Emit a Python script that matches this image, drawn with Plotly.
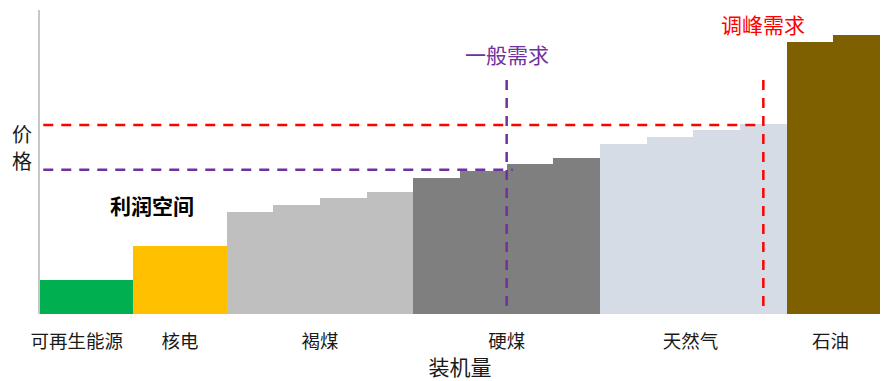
import plotly.graph_objects as go

# Merit-order curve: generation blocks sorted by price
groups = ["可再生能源", "核电", "褐煤", "硬煤", "天然气", "石油"]
group_colors = ["#00b050", "#ffc000", "#bfbfbf", "#7f7f7f", "#d6dce5", "#7f6000"]

# one entry per generation block
block_group = [0, 1, 2, 2, 2, 2, 3, 3, 3, 3, 4, 4, 4, 4, 5, 5]
block_capacity = [2, 2, 1, 1, 1, 1, 1, 1, 1, 1, 1, 1, 1, 1, 1, 1]
block_price = [5, 10, 15, 16, 17, 18, 20, 21, 22, 23, 25, 26, 27, 28, 40, 41]

# demand levels: (capacity, clearing price)
normal_demand = (10.0, 21.2)
peak_demand = (15.5, 27.8)
demand_top = 34.4

# cumulative block positions along the capacity axis
starts, centers = [], []
pos = 0.0
for w in block_capacity:
    starts.append(pos)
    centers.append(pos + w / 2)
    pos += w
total_capacity = pos

group_centers = []
for g in range(len(groups)):
    idx = [i for i in range(len(block_group)) if block_group[i] == g]
    lo = min(starts[i] for i in idx)
    hi = max(starts[i] + block_capacity[i] for i in idx)
    group_centers.append((lo + hi) / 2)

# small nudges so the category labels sit where they read best
label_nudge = [-0.21, 0, 0, 0, -0.06, -0.06]
label_pos = [c + d for c, d in zip(group_centers, label_nudge)]

fig = go.Figure()
fig.add_trace(go.Bar(
    x=centers,
    y=block_price,
    width=block_capacity,
    marker=dict(color=[group_colors[g] for g in block_group], line=dict(width=0)),
    hoverinfo="skip",
    showlegend=False,
))

dash = "10px,8px"
red = "#ff0000"
purple = "#7030a0"
# horizontal price levels
fig.add_shape(type="line", x0=0.07, x1=peak_demand[0], y0=peak_demand[1], y1=peak_demand[1],
              line=dict(color=red, width=2.5, dash=dash))
fig.add_shape(type="line", x0=0.07, x1=normal_demand[0] + 0.13, y0=normal_demand[1], y1=normal_demand[1],
              line=dict(color=purple, width=2.5, dash=dash))
# vertical demand lines, drawn top-down
fig.add_shape(type="line", x0=peak_demand[0], x1=peak_demand[0], y0=demand_top, y1=0.6,
              line=dict(color=red, width=2.5, dash=dash))
fig.add_shape(type="line", x0=normal_demand[0], x1=normal_demand[0], y0=demand_top, y1=0.3,
              line=dict(color=purple, width=2.5, dash=dash))

font_family = "Noto Sans CJK SC"
fig.add_annotation(x=normal_demand[0], y=demand_top, text="一般需求", showarrow=False,
                   yanchor="bottom", yshift=9, font=dict(size=21, color=purple, family=font_family))
fig.add_annotation(x=peak_demand[0], y=demand_top, text="调峰需求", showarrow=False,
                   yanchor="bottom", yshift=39, font=dict(size=21, color=red, family=font_family))
fig.add_annotation(x=2.4, y=16, text="<b>利润空间</b>", showarrow=False,
                   font=dict(size=21, color="#000000", family=font_family))
# vertical axis title, one character per line
for ch, yv in zip("价格", [26.6, 22.6]):
    fig.add_annotation(xref="paper", x=0, xanchor="center", xshift=-18, y=yv, text=ch,
                       showarrow=False, borderpad=0,
                       font=dict(size=20, color="#1a1a1a", family=font_family))

fig.update_layout(
    width=885, height=381,
    margin=dict(l=40, r=5, t=10, b=67),
    paper_bgcolor="white", plot_bgcolor="white",
    font=dict(family=font_family, color="#1a1a1a"),
    bargap=0,
    xaxis=dict(
        range=[0, total_capacity],
        tickvals=label_pos, ticktext=groups,
        tickfont=dict(size=18.5),
        ticks="", showgrid=False, zeroline=False, showline=False,
        ticklabelstandoff=14,
        title=dict(text="装机量", font=dict(size=21), standoff=8),
        fixedrange=True,
    ),
    yaxis=dict(
        range=[0, 44.7],
        showticklabels=False, ticks="", showgrid=False, zeroline=False,
        showline=True, linecolor="#c8c8c8", linewidth=2,
        fixedrange=True,
    ),
)

fig.write_html("out.html")
